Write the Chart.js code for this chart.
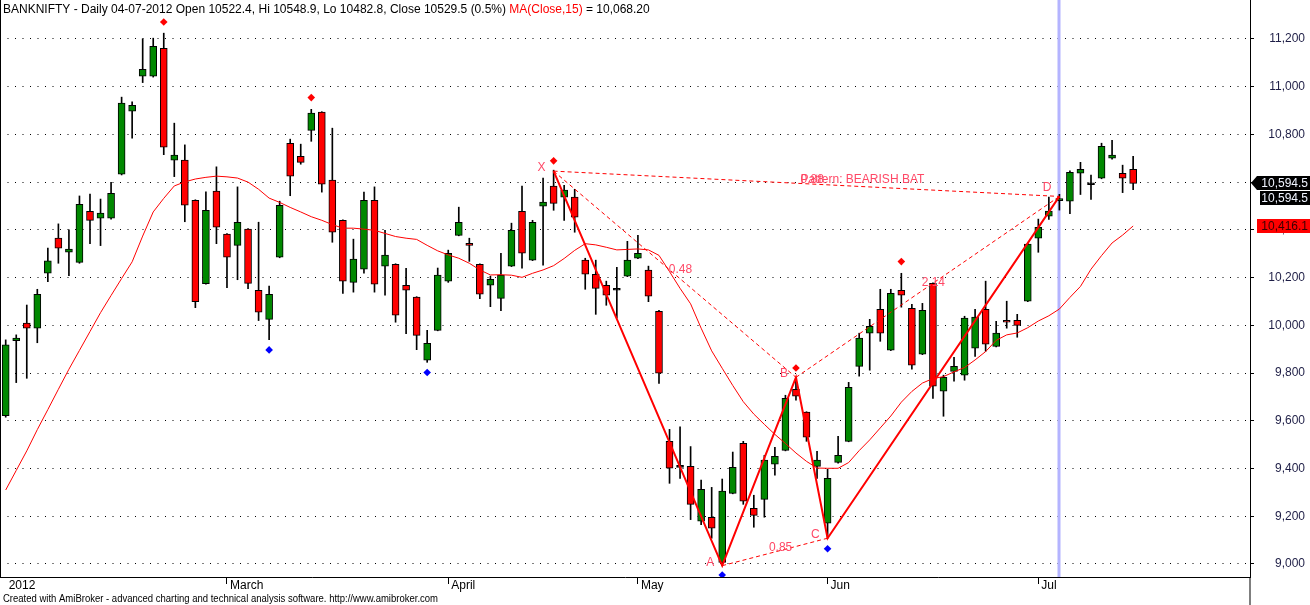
<!DOCTYPE html>
<html>
<head>
<meta charset="utf-8">
<script src="https://cdn.jsdelivr.net/npm/chart.js@4.4.0/dist/chart.umd.min.js"></script>
<style>
    html, body { margin: 0; padding: 0; background: #fff; }
    canvas { display: block; }
</style>
</head>
<body>
<canvas id="myChart" width="1310" height="605"></canvas>
<script>
const symbol = 'BANKNIFTY';
const selDate = '04-07-2012';
const selIdx = 100;

// daily candles, Feb -> mid Jul 2012
const opens = [9621, 9936, 10009, 9988, 10218, 10365, 10306, 10264, 10478, 10449,
    10449, 10633, 10897, 11044, 11044, 11161, 10692, 10692, 10524, 10175,
    10562, 10382, 10335, 10403, 10147, 10025, 10285, 10763, 10708, 10817,
    10893, 10608, 10440, 10180, 10235, 10524, 10248, 10256, 10168, 10118,
    9854, 9979, 10185, 10377, 10344, 10256, 10168, 10113, 10248, 10478,
    10273, 10499, 10583, 10537, 10537, 10273, 10214, 10168, 10147, 10206,
    10281, 10231, 10059, 9514, 9405, 9409, 9179, 9196, 9007, 9296,
    9506, 9233, 9271, 9418, 9476, 9732, 9636, 9409, 9171, 9426,
    9514, 9828, 9967, 10067, 9896, 10147, 10071, 9879, 10176, 9724,
    9807, 9791, 9904, 10067, 9912, 10021, 10021, 10101, 10365, 10457,
    10522.4, 10520, 10637, 10589, 10616, 10700, 10637, 10654];
const highs = [9939, 9960, 10085, 10151, 10324, 10425, 10400, 10542, 10550, 10529,
    10599, 10956, 10936, 11200, 11203, 11224, 10847, 10756, 10526, 10559,
    10664, 10384, 10580, 10405, 10432, 10164, 10520, 10780, 10759, 10905,
    10895, 10826, 10442, 10361, 10558, 10580, 10398, 10258, 10239, 10120,
    9979, 10240, 10315, 10495, 10365, 10258, 10206, 10302, 10428, 10583,
    10440, 10617, 10650, 10587, 10570, 10281, 10273, 10185, 10243, 10352,
    10377, 10248, 10063, 9564, 9575, 9492, 9352, 9321, 9356, 9469,
    9514, 9288, 9455, 9489, 9707, 9782, 9638, 9472, 9397, 9535,
    9761, 9967, 10025, 10151, 10151, 10218, 10088, 10092, 10178, 9791,
    9866, 10038, 10067, 10185, 10017, 10101, 10046, 10345, 10445, 10537,
    10548.9, 10647, 10683, 10629, 10763, 10775, 10671, 10708];
const lows = [9615, 9760, 9778, 9927, 10183, 10260, 10208, 10260, 10342, 10334,
    10445, 10630, 10784, 11017, 11040, 10715, 10623, 10434, 10074, 10172,
    10342, 10158, 10191, 10154, 10020, 9940, 10283, 10543, 10675, 10771,
    10558, 10348, 10134, 10139, 10218, 10139, 10126, 10013, 9965, 9898,
    9845, 9977, 10180, 10375, 10268, 10112, 10078, 10061, 10246, 10239,
    10271, 10252, 10482, 10440, 10390, 10151, 10046, 10084, 10030, 10204,
    10279, 10099, 9757, 9338, 9359, 9186, 9165, 9108, 8993, 9294,
    9250, 9154, 9196, 9372, 9474, 9686, 9514, 9359, 9108, 9422,
    9512, 9787, 9812, 9933, 9894, 10076, 9816, 9877, 9694, 9619,
    9766, 9770, 9870, 9891, 9910, 9988, 9950, 10099, 10306, 10444,
    10482.8, 10468, 10548, 10527, 10614, 10696, 10556, 10568];
const closes = [9918, 9946, 9988, 10130, 10270, 10323, 10319, 10507, 10440, 10470,
    10553, 10931, 10922, 11073, 11169, 10746, 10713, 10503, 10099, 10482,
    10411, 10285, 10432, 10176, 10055, 10130, 10503, 10625, 10683, 10889,
    10591, 10390, 10185, 10277, 10524, 10172, 10294, 10042, 10147, 9958,
    9925, 10210, 10302, 10432, 10335, 10130, 10193, 10210, 10398, 10302,
    10432, 10516, 10511, 10567, 10453, 10214, 10155, 10126, 10147, 10273,
    10302, 10122, 9799, 9401, 9405, 9250, 9313, 9150, 9305, 9405,
    9263, 9204, 9435, 9451, 9694, 9703, 9531, 9435, 9359, 9455,
    9740, 9946, 9996, 9967, 10134, 10126, 9833, 10063, 9745, 9782,
    9828, 10030, 10034, 9921, 9967, 10013, 10000, 10340, 10411, 10479,
    10529.5, 10641, 10654, 10589, 10750, 10713, 10616, 10594.5];

// MA(Close,15) as plotted
const ma15 = [9310, 9392, 9474, 9563, 9647, 9732, 9816, 9895, 9974, 10053,
    10125, 10196, 10266, 10374, 10475, 10532, 10584, 10601, 10613, 10620,
    10625, 10622, 10617, 10600, 10570, 10533, 10515, 10494, 10475, 10455,
    10440, 10422, 10407, 10407, 10403, 10398, 10385, 10372, 10365, 10360,
    10335, 10312, 10295, 10281, 10260, 10232, 10211, 10212, 10210, 10201,
    10218, 10232, 10250, 10280, 10314, 10342, 10337, 10327, 10316, 10318,
    10320, 10316, 10293, 10225, 10155, 10090, 9988, 9893, 9820, 9748,
    9680, 9628, 9585, 9543, 9505, 9465, 9430, 9402, 9401, 9401,
    9425, 9475, 9520, 9570, 9620, 9678, 9723, 9758, 9777, 9785,
    9805, 9823, 9855, 9890, 9937, 9960, 9968, 9990, 10018, 10040,
    10068.2, 10117, 10163, 10235, 10292, 10345, 10378, 10416.1];

// harmonic pattern points X A B C D
const patNames = ['X', 'A', 'B', 'C', 'D'];
const patIdx = [52, 68, 75, 78, 100];
const patVal = [10646, 8993, 9782, 9108, 10540];
// ratio legs (pairs of pattern points) and their labels
const legFrom = [0, 1, 2, 0];
const legTo = [2, 3, 4, 4];
const legText = ['0.48', '0.85', '2.14', '0.88'];
const patternTitle = 'Pattern: BEARISH BAT';

// swing markers
const peakIdx = [15, 29, 52, 75, 85];
const peakVal = [11271, 10954, 10689, 9821, 10267];
const troughIdx = [25, 40, 68, 78];
const troughVal = [9897, 9802, 8954, 9064];

const monthIdx = [0, 21, 42, 60, 78, 98];
const monthLabels = ['2012', 'March', 'April', 'May', 'Jun', 'Jul'];
const yTicks = [9000, 9200, 9400, 9600, 9800, 10000, 10200, 10400, 10600, 10800, 11000, 11200];

const FONT = '"Liberation Sans", Arial, sans-serif';
const PINK = '#ff4866';

function fmt(v, d) {
    return v.toLocaleString('en-US', { minimumFractionDigits: d, maximumFractionDigits: d });
}

function noPad(ax) {
    ax.paddingTop = 0;
    ax.paddingBottom = 0;
    ax.paddingLeft = 0;
    ax.paddingRight = 0;
}

const overlay = {
    id: 'overlay',
    beforeDatasetsDraw(chart) {
        const ctx = chart.ctx;
        const xs = chart.scales.x;
        const area = chart.chartArea;
        // selected bar marker
        ctx.save();
        ctx.fillStyle = '#b4b4ff';
        ctx.fillRect(Math.round(xs.getPixelForValue(selIdx)) - 1.5, area.top, 3, area.bottom - area.top);
        ctx.restore();
    },
    afterDatasetsDraw(chart) {
        const ctx = chart.ctx;
        const xs = chart.scales.x;
        const ys = chart.scales.y;
        const px = patIdx.map(i => xs.getPixelForValue(i));
        const py = patVal.map(v => ys.getPixelForValue(v));

        ctx.save();
        ctx.font = '12px ' + FONT;
        ctx.fillStyle = PINK;
        ctx.textBaseline = 'alphabetic';
        ctx.textAlign = 'right';
        patNames.forEach((n, k) => {
            let dy = k == 4 ? -5 : 0;
            ctx.fillText(n, px[k] - 8, py[k] + dy);
        });
        ctx.textAlign = 'left';
        legText.forEach((t, k) => {
            const mx = (px[legFrom[k]] + px[legTo[k]]) / 2;
            const my = (py[legFrom[k]] + py[legTo[k]]) / 2;
            ctx.fillText(t, mx - 6, my - 1);
            if (k == 3) ctx.fillText(patternTitle, mx - 6, my - 1);
        });
        ctx.restore();
    },
    afterDraw(chart) {
        const ctx = chart.ctx;
        const ys = chart.scales.y;
        const area = chart.chartArea;
        const last = closes.length - 1;
        ctx.save();

        // frame
        ctx.fillStyle = '#000';
        ctx.fillRect(0, 0, 1, area.bottom);
        ctx.fillRect(area.right - 0.5, area.bottom, 1, chart.height - area.bottom);

        // header
        const prev = closes[selIdx - 1];
        const pct = ((closes[selIdx] / prev - 1) * 100).toFixed(1);
        const head = symbol + ' - Daily ' + selDate + ' Open ' + opens[selIdx] + ', Hi ' + highs[selIdx] +
            ', Lo ' + lows[selIdx] + ', Close ' + closes[selIdx] + ' (' + pct + '%) ';
        ctx.font = '12px ' + FONT;
        ctx.textBaseline = 'alphabetic';
        ctx.textAlign = 'left';
        let x = 3;
        ctx.fillStyle = '#000';
        ctx.fillText(head, x, 13);
        x += ctx.measureText(head).width;
        ctx.fillStyle = '#ff0000';
        ctx.fillText('MA(Close,15)', x, 13);
        x += ctx.measureText('MA(Close,15)').width;
        ctx.fillStyle = '#000';
        ctx.fillText(' = ' + fmt(ma15[selIdx], 2), x, 13);

        // footer
        ctx.font = '10px ' + FONT;
        ctx.fillText('Created with AmiBroker - advanced charting and technical analysis software. http://www.amibroker.com', 3, 602, 435);

        // last value boxes
        ctx.font = '12px ' + FONT;
        ctx.textBaseline = 'middle';
        ctx.textAlign = 'right';
        const yc = Math.round(ys.getPixelForValue(closes[last]));
        ctx.fillStyle = '#000';
        ctx.beginPath();
        ctx.moveTo(area.right + 1, yc);
        ctx.lineTo(area.right + 7, yc - 7);
        ctx.lineTo(1310, yc - 7);
        ctx.lineTo(1310, yc + 7);
        ctx.lineTo(area.right + 7, yc + 7);
        ctx.closePath();
        ctx.fill();
        ctx.fillRect(area.right + 10, yc + 8, 60, 14);
        ctx.fillStyle = '#f0f4ff';
        ctx.fillText(fmt(closes[last], 1), 1308, yc + 1);
        ctx.fillText(fmt(closes[last], 1), 1308, yc + 16);

        const ym = Math.round(ys.getPixelForValue(ma15[last]));
        ctx.fillStyle = '#ff0000';
        ctx.fillRect(area.right + 7, ym - 7, 60, 14);
        ctx.fillStyle = '#3a0000';
        ctx.fillText(fmt(ma15[last], 1), 1308, ym + 1);
        ctx.restore();
    }
};

const idx = opens.map((o, i) => i);
const bodyColors = opens.map((o, i) => closes[i] > o ? '#008800' : (closes[i] < o ? '#ff0000' : '#000000'));

function pts(ix, vals) {
    return ix.map((i, k) => ({ x: i, y: vals[k] }));
}

const dashedLegs = legFrom.map((a, k) => ({
    type: 'line',
    data: [{ x: patIdx[a], y: patVal[a] }, { x: patIdx[legTo[k]], y: patVal[legTo[k]] }],
    borderColor: '#ff0000',
    borderWidth: 1,
    borderDash: [4, 3],
    pointRadius: 0,
    order: 2
}));

const config = {
    type: 'bar',
    data: {
        datasets: [
            {
                label: 'wick',
                data: idx.map(i => ({ x: i, y: [lows[i], highs[i]] })),
                backgroundColor: '#000',
                borderWidth: 0,
                barThickness: 1,
                grouped: false,
                order: 6
            },
            {
                label: 'body',
                data: idx.map(i => ({ x: i, y: [opens[i], closes[i]] })),
                backgroundColor: bodyColors,
                borderColor: '#000',
                borderWidth: 1,
                borderSkipped: false,
                barThickness: 7,
                minBarLength: 2,
                grouped: false,
                order: 5
            },
            {
                type: 'line',
                label: 'MA(Close,15)',
                data: pts(idx, ma15),
                borderColor: '#ff0000',
                borderWidth: 1,
                pointRadius: 0,
                tension: 0,
                order: 4
            },
            ...dashedLegs,
            {
                type: 'line',
                label: 'XABCD',
                data: pts(patIdx, patVal),
                borderColor: '#ff0000',
                borderWidth: 2,
                pointRadius: 0,
                tension: 0,
                order: 1
            },
            {
                type: 'scatter',
                data: pts(peakIdx, peakVal),
                pointStyle: 'rectRot',
                pointRadius: 3.8,
                backgroundColor: '#ff0000',
                borderWidth: 0,
                order: 0
            },
            {
                type: 'scatter',
                data: pts(troughIdx, troughVal),
                pointStyle: 'rectRot',
                pointRadius: 3.8,
                backgroundColor: '#0000ff',
                borderWidth: 0,
                order: 0
            }
        ]
    },
    options: {
        responsive: false,
        animation: false,
        events: [],
        layout: { padding: { left: 0, top: 0, bottom: 0, right: 5 }, autoPadding: false },
        plugins: {
            legend: { display: false },
            tooltip: { enabled: false },
            title: { display: false }
        },
        scales: {
            x: {
                type: 'linear',
                min: -0.541,
                max: 118.09,
                offset: false,
                afterBuildTicks: ax => { ax.ticks = monthIdx.map(v => ({ value: v })); },
                afterFit: ax => { ax.height = 28; noPad(ax); },
                ticks: {
                    autoSkip: false,
                    maxRotation: 0,
                    align: 'start',
                    labelOffset: 3,
                    padding: -6,
                    color: '#000',
                    font: { family: FONT, size: 12 },
                    callback: (v, i) => monthLabels[i]
                },
                grid: {
                    offset: false,
                    drawOnChartArea: false,
                    tickLength: 7,
                    color: '#000',
                    tickColor: c => c.index == 0 ? 'rgba(0,0,0,0)' : '#000'
                },
                border: { color: '#000', width: 1 }
            },
            y: {
                type: 'linear',
                position: 'right',
                min: 8945.5,
                max: 11363,
                afterBuildTicks: ax => { ax.ticks = yTicks.map(v => ({ value: v })); },
                afterFit: ax => { ax.width = 55; noPad(ax); },
                ticks: {
                    color: '#1e1e46',
                    font: { family: FONT, size: 12 },
                    crossAlign: 'far',
                    padding: 10,
                    callback: v => fmt(v, 0)
                },
                grid: {
                    color: '#000',
                    lineWidth: 1,
                    tickLength: 4,
                    tickColor: '#000'
                },
                border: { color: '#000', width: 1, dash: [1, 6.5] }
            }
        }
    },
    plugins: [overlay]
};

Chart.defaults.animation = false;
new Chart(document.getElementById('myChart'), config);
</script>
</body>
</html>
